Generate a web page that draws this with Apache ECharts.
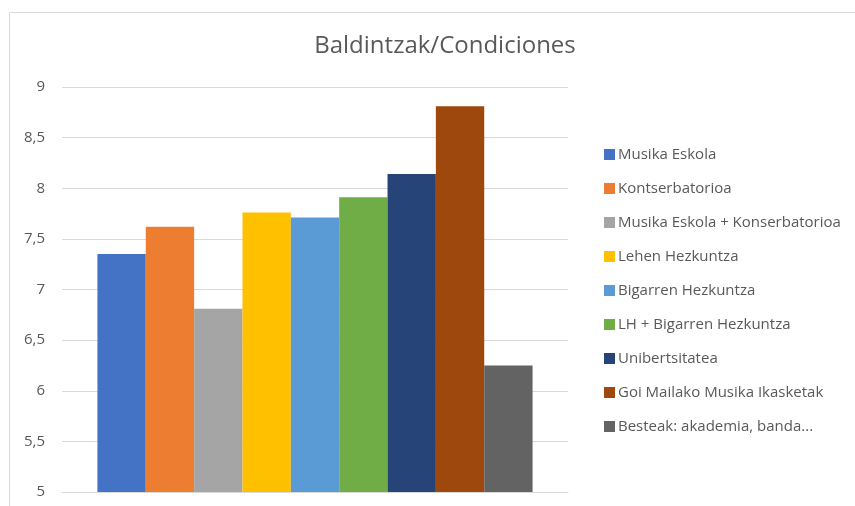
<!DOCTYPE html>
<html>
<head>
<meta charset="utf-8">
<script src="https://cdn.jsdelivr.net/npm/echarts@6/dist/echarts.min.js"></script>
<style>
  html, body { margin: 0; padding: 0; background: #fff; }
  #main { width: 855px; height: 506px; }
</style>
</head>
<body>
<div id="main"></div>
<script>
// datos
var categories = [''];
var seriesNames = [
    'Musika Eskola',
    'Kontserbatorioa',
    'Musika Eskola + Konserbatorioa',
    'Lehen Hezkuntza',
    'Bigarren Hezkuntza',
    'LH + Bigarren Hezkuntza',
    'Unibertsitatea',
    'Goi Mailako Musika Ikasketak',
    'Besteak: akademia, banda...'
];
var seriesValues = [7.35, 7.62, 6.81, 7.76, 7.71, 7.91, 8.14, 8.81, 6.25];
var colors = ['#4472c4', '#ed7d31', '#a5a5a5', '#ffc000', '#5b9bd5', '#70ad47', '#264478', '#9e480e', '#636363'];

var myChart = echarts.init(document.getElementById('main'));

var series = seriesNames.map(function (name, i) {
    return {
        name: name,
        type: 'bar',
        data: [seriesValues[i]],
        barGap: 0,
        barCategoryGap: '14%',
        itemStyle: { color: colors[i] }
    };
});

myChart.setOption({
    animation: false,
    textStyle: { fontFamily: 'Open Sans' },
    title: {
        text: 'Baldintzak/Condiciones',
        left: 440,
        textAlign: 'center',
        top: 29,
        textStyle: { fontSize: 24, fontWeight: 'normal', color: '#595959' }
    },
    // marco del gráfico
    graphic: [{
        type: 'rect',
        shape: { x: 9.5, y: 12.5, width: 900, height: 600 },
        style: { fill: 'none', stroke: '#d9d9d9', lineWidth: 1 },
        silent: true
    }],
    legend: {
        orient: 'vertical',
        left: 599,
        top: 142,
        itemWidth: 11,
        itemHeight: 11,
        itemGap: 19,
        icon: 'rect',
        textStyle: { fontSize: 15, color: '#595959', padding: [0, 0, 0, -2] },
        data: seriesNames
    },
    grid: { left: 62, right: 287, top: 87, bottom: 14, containLabel: false },
    xAxis: {
        type: 'category',
        data: categories,
        axisLine: { lineStyle: { color: '#d9d9d9' } },
        axisTick: { show: false },
        axisLabel: { show: false }
    },
    yAxis: {
        type: 'value',
        min: 5,
        max: 9,
        interval: 0.5,
        axisLine: { show: false },
        axisTick: { show: false },
        splitLine: { lineStyle: { color: '#d9d9d9', width: 1 } },
        axisLabel: {
            fontSize: 15,
            color: '#595959',
            margin: 17,
            formatter: function (v) { return String(v).replace('.', ','); }
        }
    },
    series: series
});
</script>
</body>
</html>
